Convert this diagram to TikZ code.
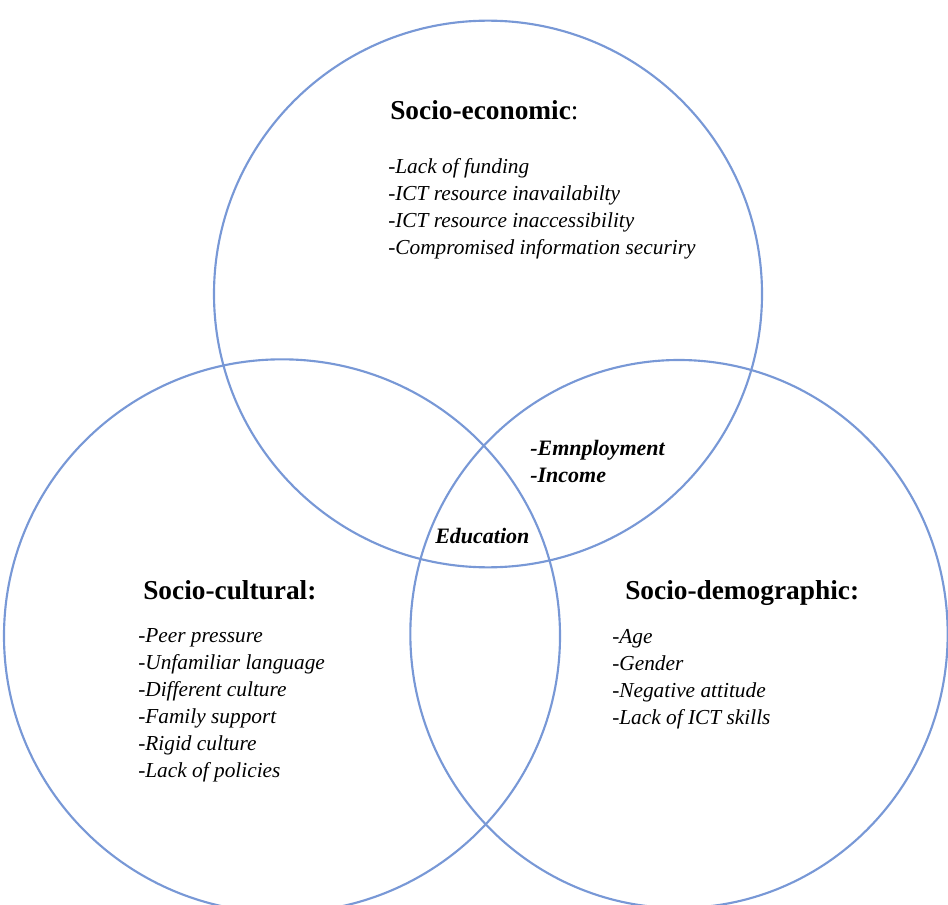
\documentclass[tikz,border=0pt]{standalone}
\usepackage{fontspec}
\setmainfont{Liberation Serif}
\usetikzlibrary{shapes.geometric}
\definecolor{vennblue}{RGB}{120,152,214}
\tikzset{
  setring/.style={ellipse, draw=vennblue, line width=1.6pt, inner sep=0pt},
  headtext/.style={anchor=base west, inner sep=0pt, font=\fontsize{20.5pt}{24pt}\selectfont\bfseries},
  itemtext/.style={anchor=base west, inner sep=0pt, font=\fontsize{16pt}{19pt}\selectfont\itshape},
  overlaptext/.style={anchor=base west, inner sep=0pt, font=\fontsize{16.5pt}{19pt}\selectfont\bfseries\itshape}
}
\begin{document}
\begin{tikzpicture}[x=0.75pt,y=-0.75pt]
\useasboundingbox (0,0) rectangle (948,905);
\begin{scope}
\clip (0,0) rectangle (948,905);
% the three overlapping sets
\node[setring, minimum width=411pt, minimum height=410pt] (econ) at (488,294) {};
\node[setring, minimum width=417pt, minimum height=415pt] (cult) at (282,636) {};
\node[setring, minimum width=403pt, minimum height=411pt] (demo) at (679,634) {};
\end{scope}

% socio-economic set
\node[headtext] (econhead) at (390,120) {Socio-economic\mdseries:};
\node[itemtext] (e1) at (388,174) {-Lack of funding};
\node[itemtext] (e2) at (388,201) {-ICT resource inavailabilty};
\node[itemtext] (e3) at (388,228) {-ICT resource inaccessibility};
\node[itemtext] (e4) at (388,255) {-Compromised information securiry};

% overlaps
\node[overlaptext] (emp) at (530,455) {-Emnployment};
\node[overlaptext] (inc) at (530,482) {-Income};
\node[overlaptext] (edu) at (435,543) {Education};

% socio-cultural set
\node[headtext] (culthead) at (143,599) {Socio-cultural:};
\node[itemtext] (c1) at (138,642) {-Peer pressure};
\node[itemtext] (c2) at (138,669) {-Unfamiliar language};
\node[itemtext] (c3) at (138,696) {-Different culture};
\node[itemtext] (c4) at (138,723) {-Family support};
\node[itemtext] (c5) at (138,750) {-Rigid culture};
\node[itemtext] (c6) at (138,777) {-Lack of policies};

% socio-demographic set
\node[headtext] (demohead) at (625,599) {Socio-demographic:};
\node[itemtext] (d1) at (612,643) {-Age};
\node[itemtext] (d2) at (612,670) {-Gender};
\node[itemtext] (d3) at (612,697) {-Negative attitude};
\node[itemtext] (d4) at (612,724) {-Lack of ICT skills};
\end{tikzpicture}
\end{document}
